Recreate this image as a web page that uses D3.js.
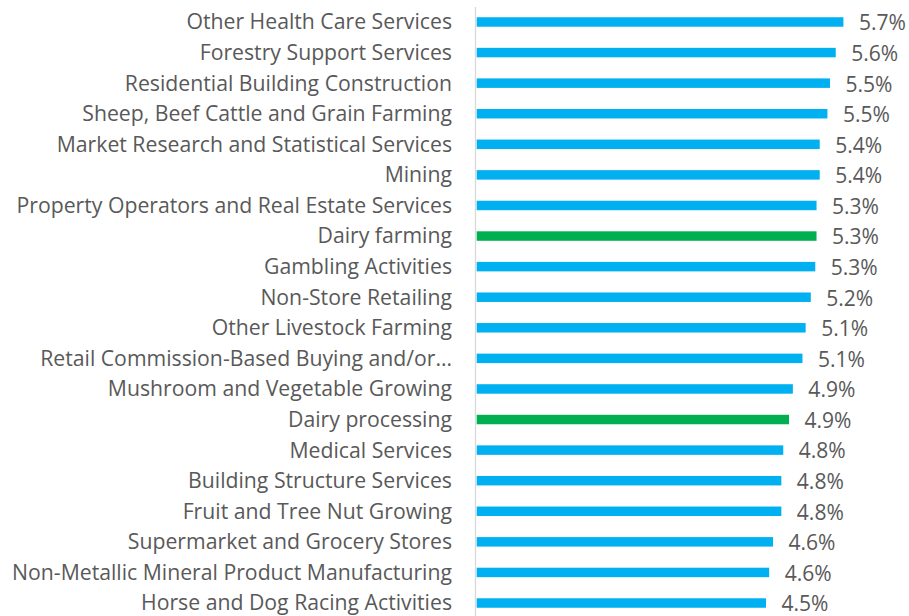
<!DOCTYPE html>
<html><head><meta charset="utf-8">
<script src="https://cdn.jsdelivr.net/npm/d3@7"></script>
<style>body{margin:0;background:#fff}svg{display:block}</style>
</head><body>
<svg id="chart" width="909" height="616"></svg>
<script>
const categories = [
  "Other Health Care Services",
  "Forestry Support Services",
  "Residential Building Construction",
  "Sheep, Beef Cattle and Grain Farming",
  "Market Research and Statistical Services",
  "Mining",
  "Property Operators and Real Estate Services",
  "Dairy farming",
  "Gambling Activities",
  "Non-Store Retailing",
  "Other Livestock Farming",
  "Retail Commission-Based Buying and/or…",
  "Mushroom and Vegetable Growing",
  "Dairy processing",
  "Medical Services",
  "Building Structure Services",
  "Fruit and Tree Nut Growing",
  "Supermarket and Grocery Stores",
  "Non-Metallic Mineral Product Manufacturing",
  "Horse and Dog Racing Activities"
];
const values = [5.73, 5.61, 5.52, 5.48, 5.36, 5.36, 5.31, 5.31, 5.29, 5.22, 5.14, 5.09, 4.94, 4.88, 4.79, 4.76, 4.76, 4.63, 4.57, 4.52];
const highlighted = ["Dairy farming", "Dairy processing"];

const data = categories.map((c, i) => ({ c, v: values[i] }));
const svg = d3.select("#chart");
const font = "'Open Sans', 'Noto Sans', sans-serif";
const textColor = "#595959";

const x0 = 476.7;
const x = d3.scaleLinear().domain([0, 1]).range([x0, x0 + 64]);
const y = d3.scaleBand().domain(categories).range([6.7, 618.3]).paddingInner(0.69).paddingOuter(0.345);

function fitSize(str, target) {
  const probe = svg.append("text").style("font-family", font).style("font-size", "100px").text(str);
  const w = probe.node().getComputedTextLength();
  probe.remove();
  return 100 * target / w;
}
const catSize = fitSize("Non-Metallic Mineral Product Manufacturing", 440);
const valSize = Math.min(catSize, fitSize("5.7%", 47));

// axis line
svg.append("line").attr("x1", 475.5).attr("x2", 475.5).attr("y1", 7).attr("y2", 616)
  .attr("stroke", "#d9d9d9").attr("stroke-width", 1.3);

svg.selectAll("rect.bar").data(data).join("rect")
  .attr("class", "bar")
  .attr("x", x(0))
  .attr("y", d => y(d.c))
  .attr("width", d => x(d.v) - x(0))
  .attr("height", y.bandwidth())
  .attr("fill", d => highlighted.includes(d.c) ? "#00b050" : "#00b0f0");

svg.selectAll("text.cat").data(data).join("text")
  .attr("class", "cat")
  .attr("x", 452)
  .attr("y", d => y(d.c) + y.bandwidth() / 2)
  .attr("dy", "0.35em")
  .attr("text-anchor", "end")
  .style("font-family", font)
  .style("font-size", catSize + "px")
  .attr("fill", textColor)
  .text(d => d.c);

const fmt = d3.format(".1f");
svg.selectAll("text.val").data(data).join("text")
  .attr("class", "val")
  .attr("x", d => x(d.v) + 15.5)
  .attr("y", d => y(d.c) + y.bandwidth() / 2 + 1)
  .attr("dy", "0.35em")
  .style("font-family", font)
  .style("font-size", valSize + "px")
  .attr("fill", textColor)
  .text(d => fmt(d.v) + "%");
</script>
</body></html>
